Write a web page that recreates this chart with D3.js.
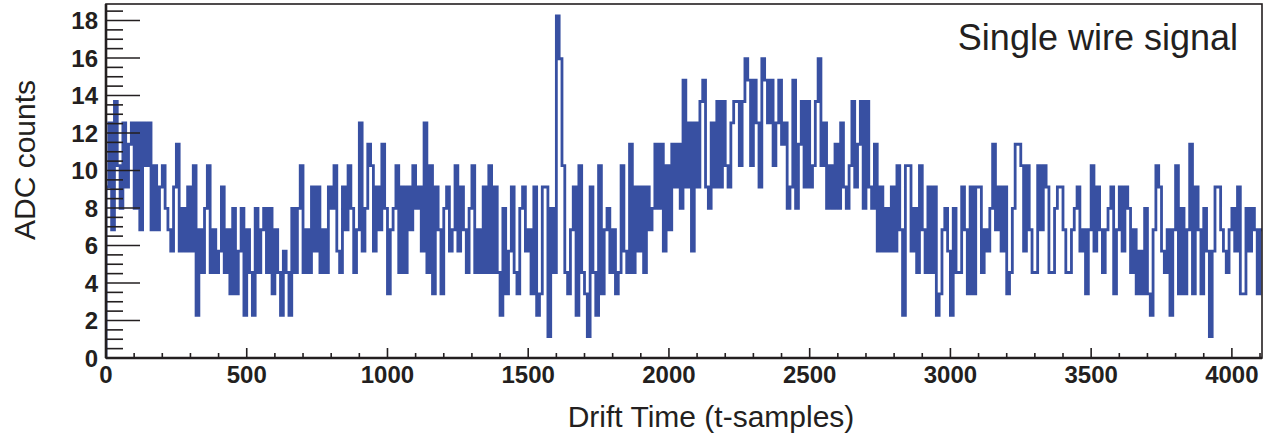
<!DOCTYPE html>
<html>
<head>
<meta charset="utf-8">
<script src="https://cdn.jsdelivr.net/npm/d3@7"></script>
<style>
  body { margin: 0; background: #fff; }
  svg { display: block; font-family: "Liberation Sans", Arial, Helvetica, sans-serif; }
</style>
</head>
<body>
<div id="chart"></div>
<script>
// ADC value per 10-sample bin (samples 0..4100)
const binWidth = 10;
const adc = [
  9.12, 12.54, 6.84, 13.68, 10.26, 7.98, 12.54, 9.12, 11.4, 12.54,
  7.98, 12.54, 6.84, 12.54, 10.26, 12.54, 6.84, 10.26, 6.84, 9.12,
  10.26, 7.98, 6.84, 5.7, 9.12, 11.4, 5.7, 7.98, 5.7, 9.12,
  5.7, 10.26, 2.28, 6.84, 4.56, 7.98, 10.26, 4.56, 6.84, 4.56,
  5.7, 9.12, 4.56, 6.84, 3.42, 7.98, 3.42, 5.7, 7.98, 2.28,
  6.84, 4.56, 2.28, 7.98, 4.56, 6.84, 7.98, 4.56, 7.98, 3.42,
  6.84, 4.56, 2.28, 5.7, 4.56, 2.28, 7.98, 4.56, 7.98, 10.26,
  4.56, 6.84, 4.56, 9.12, 5.7, 9.12, 4.56, 6.84, 4.56, 9.12,
  7.98, 10.26, 5.7, 4.56, 9.12, 6.84, 10.26, 7.98, 4.56, 6.84,
  12.54, 5.7, 7.98, 11.4, 10.26, 5.7, 9.12, 6.84, 11.4, 7.98,
  3.42, 6.84, 7.98, 10.26, 4.56, 9.12, 4.56, 9.12, 6.84, 10.26,
  7.98, 9.12, 5.7, 12.54, 4.56, 10.26, 3.42, 9.12, 6.84, 3.42,
  7.98, 9.12, 5.7, 6.84, 10.26, 5.7, 9.12, 6.84, 4.56, 7.98,
  10.26, 4.56, 6.84, 4.56, 9.12, 4.56, 10.26, 4.56, 9.12, 4.56,
  2.28, 7.98, 3.42, 5.7, 9.12, 4.56, 3.42, 7.98, 9.12, 5.7,
  6.84, 3.42, 9.12, 2.28, 3.42, 9.12, 9.12, 1.14, 7.98, 4.56,
  18.24, 15.96, 10.26, 4.56, 3.42, 6.84, 9.12, 2.28, 10.26, 4.56,
  3.42, 1.14, 9.12, 4.56, 2.28, 10.26, 3.42, 6.84, 7.98, 4.56,
  6.84, 3.42, 4.56, 10.26, 5.7, 4.56, 11.4, 4.56, 9.12, 5.7,
  9.12, 4.56, 9.12, 6.84, 7.98, 11.4, 7.98, 11.4, 5.7, 10.26,
  6.84, 11.4, 9.12, 11.4, 7.98, 14.82, 9.12, 12.54, 5.7, 12.54,
  9.12, 13.68, 14.82, 9.12, 7.98, 12.54, 9.12, 13.68, 9.12, 13.68,
  10.26, 9.12, 12.54, 13.68, 13.68, 10.26, 13.68, 15.96, 14.82, 10.26,
  14.82, 12.54, 9.12, 15.96, 14.82, 12.54, 14.82, 10.26, 12.54, 14.82,
  11.4, 12.54, 7.98, 9.12, 14.82, 7.98, 11.4, 13.68, 9.12, 13.68,
  9.12, 10.26, 13.68, 15.96, 10.26, 12.54, 7.98, 10.26, 7.98, 11.4,
  7.98, 12.54, 9.12, 7.98, 10.26, 13.68, 9.12, 11.4, 13.68, 7.98,
  13.68, 9.12, 7.98, 11.4, 5.7, 9.12, 5.7, 7.98, 5.7, 9.12,
  5.7, 10.26, 6.84, 2.28, 10.26, 10.26, 5.7, 7.98, 4.56, 10.26,
  6.84, 4.56, 9.12, 4.56, 9.12, 2.28, 3.42, 6.84, 7.98, 5.7,
  2.28, 7.98, 4.56, 4.56, 9.12, 6.84, 3.42, 9.12, 3.42, 9.12,
  9.12, 4.56, 6.84, 5.7, 7.98, 11.4, 6.84, 9.12, 5.7, 9.12,
  3.42, 4.56, 7.98, 11.4, 11.4, 10.26, 5.7, 10.26, 6.84, 4.56,
  4.56, 10.26, 6.84, 10.26, 9.12, 4.56, 4.56, 7.98, 9.12, 9.12,
  6.84, 4.56, 4.56, 6.84, 7.98, 9.12, 5.7, 6.84, 3.42, 6.84,
  10.26, 5.7, 9.12, 6.84, 4.56, 6.84, 7.98, 9.12, 3.42, 6.84,
  9.12, 5.7, 9.12, 7.98, 4.56, 6.84, 3.42, 5.7, 3.42, 7.98,
  3.42, 2.28, 6.84, 10.26, 9.12, 5.7, 4.56, 6.84, 2.28, 6.84,
  10.26, 3.42, 7.98, 3.42, 6.84, 11.4, 3.42, 9.12, 6.84, 3.42,
  7.98, 5.7, 1.14, 5.7, 9.12, 9.12, 6.84, 5.7, 4.56, 6.84,
  7.98, 5.7, 9.12, 3.42, 3.42, 7.98, 5.7, 7.98, 6.84, 3.42,
  6.84
];

const xTicks = [0, 500, 1000, 1500, 2000, 2500, 3000, 3500, 4000];
const yTicks = [0, 2, 4, 6, 8, 10, 12, 14, 16, 18];
const xTitle = "Drift Time (t-samples)";
const yTitle = "ADC counts";
const label = "Single wire signal";

const W = 1279, H = 439;
const margin = { top: 4, right: 17, bottom: 81, left: 106 };
const width = W - margin.left - margin.right,
      height = H - margin.top - margin.bottom;
const ink = "#231f20";

const svg = d3.select("#chart").append("svg")
    .attr("width", W)
    .attr("height", H);

const x = d3.scaleLinear().domain([0, 4107]).range([0, width]);
const y = d3.scaleLinear().domain([0, 18.88]).range([height, 0]);

const g = svg.append("g")
    .attr("transform", `translate(${margin.left},${margin.top})`);

svg.append("defs").append("clipPath").attr("id", "plotclip")
  .append("rect").attr("width", width).attr("height", height);

// histogram as a step line, starting from the baseline like ROOT does
const pts = [[0, 0]].concat(adc.map((v, i) => [i * binWidth, v]));
pts.push([adc.length * binWidth, adc[adc.length - 1]]);

const line = d3.line()
    .x(d => x(d[0]))
    .y(d => y(d[1]))
    .curve(d3.curveStepAfter);

g.append("path")
    .datum(pts)
    .attr("clip-path", "url(#plotclip)")
    .attr("d", line)
    .attr("fill", "none")
    .attr("stroke", "#3850a2")
    .attr("stroke-width", 2.8)
    .attr("stroke-linejoin", "miter");

// frame
g.append("rect")
    .attr("width", width).attr("height", height)
    .attr("fill", "none").attr("stroke", ink).attr("stroke-width", 1.6);

// minor + major ticks drawn inside the frame
const xMinor = d3.range(0, 4108, 100);
g.selectAll(".xt").data(xMinor).enter().append("line")
    .attr("x1", d => x(d)).attr("x2", d => x(d))
    .attr("y1", height)
    .attr("y2", d => height - (d % 500 === 0 ? 10 : 5))
    .attr("stroke", ink).attr("stroke-width", 1.6);

const yMinor = d3.range(0, 18.9, 0.5);
g.selectAll(".yt").data(yMinor).enter().append("line")
    .attr("y1", d => y(d)).attr("y2", d => y(d))
    .attr("x1", 0)
    .attr("x2", d => (d % 2 === 0 ? 34 : 17))
    .attr("stroke", ink).attr("stroke-width", 1.6);

// axis lines
g.append("line").attr("x1", 0).attr("x2", width).attr("y1", height).attr("y2", height)
    .attr("stroke", ink).attr("stroke-width", 2.6);
g.append("line").attr("x1", 0).attr("x2", 0).attr("y1", 0).attr("y2", height)
    .attr("stroke", ink).attr("stroke-width", 2.6);

// tick labels
g.selectAll(".xl").data(xTicks).enter().append("text")
    .attr("x", d => x(d))
    .attr("y", height + 25)
    .attr("text-anchor", "middle")
    .attr("font-size", 24).attr("font-weight", "bold").attr("fill", ink)
    .text(d => d);

g.selectAll(".yl").data(yTicks).enter().append("text")
    .attr("x", -8)
    .attr("y", d => y(d))
    .attr("dy", "0.36em")
    .attr("text-anchor", "end")
    .attr("font-size", 24).attr("font-weight", "bold").attr("fill", ink)
    .text(d => d);

// titles
svg.append("text")
    .attr("x", 711).attr("y", 427)
    .attr("text-anchor", "middle")
    .attr("font-size", 30).attr("fill", ink)
    .text(xTitle);

svg.append("text")
    .attr("transform", "translate(35,160) rotate(-90)")
    .attr("text-anchor", "middle")
    .attr("font-size", 30).attr("fill", ink)
    .text(yTitle);

svg.append("text")
    .attr("x", 1238).attr("y", 50)
    .attr("text-anchor", "end")
    .attr("font-size", 36).attr("fill", ink)
    .text(label);
</script>
</body>
</html>
